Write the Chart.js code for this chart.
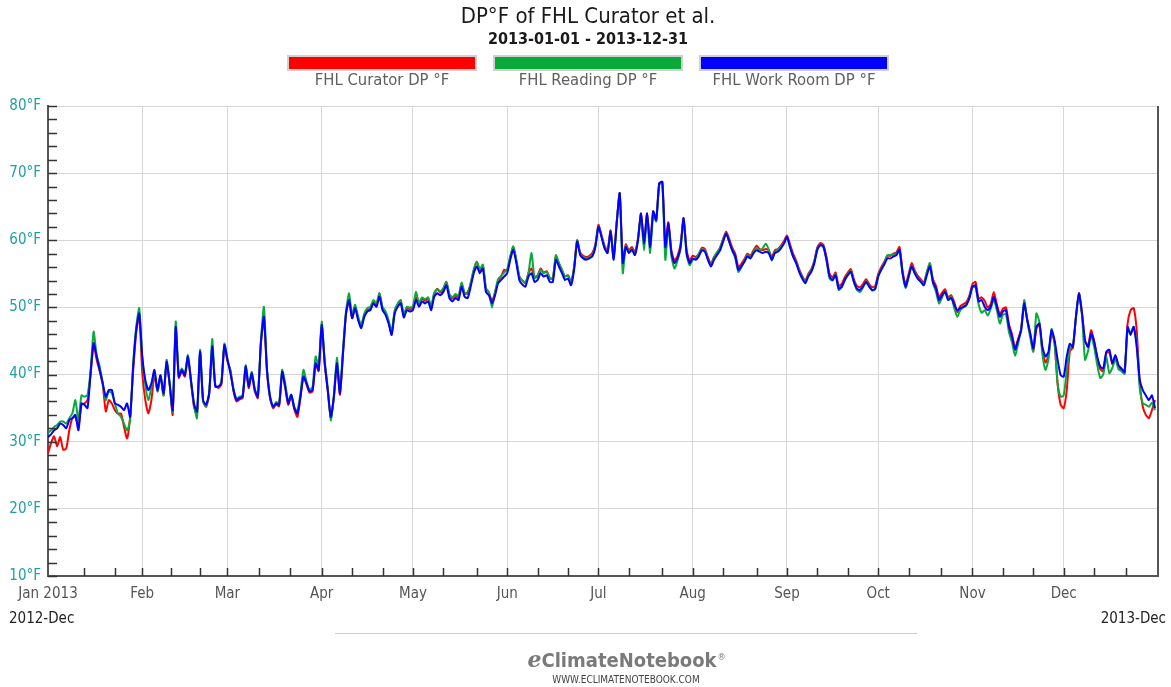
<!DOCTYPE html>
<html>
<head>
<meta charset="utf-8">
<title>DP°F of FHL Curator et al.</title>
<script src="https://cdn.jsdelivr.net/npm/chart.js@4.4.0/dist/chart.umd.min.js"></script>
<style>
  html, body { margin: 0; padding: 0; background: #fff; }
  #wrap { width: 1171px; height: 687px; }
</style>
</head>
<body>
<div id="wrap"><canvas id="dpChart" width="1171" height="687"></canvas></div>
<script>
// Punto de rocío diario (°F), 2013-01-01 .. 2013-12-31 (día 0 = 1 ene)
const seriesNames = ['FHL Curator DP °F', 'FHL Reading DP °F', 'FHL Work Room DP °F'];
const seriesColors = ['#ff0000', '#0aaa3a', '#0000ff'];

const curatorDP = [
  28.3,29.8,30.8,29.3,30.7,28.8,29.0,31.7,33.5,33.7,
  32.2,35.5,35.7,36.2,40.0,44.5,42.2,40.5,38.5,34.5,
  36.2,35.7,34.7,34.2,34.2,32.2,30.5,33.7,40.5,46.2,
  48.8,40.2,36.2,34.2,36.2,40.0,37.5,39.7,36.9,41.7,
  38.5,34.0,46.9,39.5,40.5,39.7,42.5,39.0,35.2,34.0,
  43.2,36.0,35.2,37.0,44.0,38.5,38.0,38.5,44.2,42.0,
  40.7,37.5,36.0,36.3,36.5,41.0,38.0,40.0,37.5,36.5,
  44.5,48.4,40.5,36.5,35.0,35.5,35.3,40.2,38.0,35.5,
  36.8,34.8,33.7,36.5,39.7,38.5,37.3,37.5,41.5,40.5,
  47.2,41.5,37.5,33.5,36.5,41.5,37.0,43.0,49.0,51.0,
  48.4,49.9,48.3,47.1,48.8,49.6,49.8,50.8,50.3,52.1,
  49.8,49.1,47.8,46.1,49.3,50.3,50.8,48.8,49.9,49.7,
  49.9,51.5,50.5,51.3,51.0,51.3,50.0,52.0,52.8,52.2,
  52.7,53.8,51.8,51.3,51.8,51.5,53.5,52.0,52.3,53.5,
  55.5,56.8,55.5,56.2,52.8,52.2,51.0,52.2,54.0,54.6,
  55.6,55.5,57.5,59.0,57.0,54.6,54.0,53.6,55.1,55.8,
  54.5,54.8,55.8,55.2,55.4,54.4,54.3,57.6,56.6,55.6,
  54.6,54.8,53.8,56.0,60.0,58.2,57.7,57.5,57.7,58.1,
  59.4,62.3,60.8,59.2,58.5,61.5,57.5,62.7,67.0,57.0,
  59.4,58.5,59.0,58.2,60.3,64.0,59.8,64.0,59.4,64.3,
  63.2,68.5,68.7,59.4,62.7,58.5,57.0,57.7,59.4,63.3,
  58.5,57.0,57.7,57.5,58.0,58.9,58.7,57.5,56.5,57.5,
  58.2,58.9,60.2,61.3,60.2,58.9,58.0,56.0,56.5,57.2,
  58.0,57.7,58.5,59.2,58.7,58.5,58.7,58.5,57.5,58.5,
  58.7,59.2,59.9,60.7,59.4,58.0,57.0,55.7,54.7,54.0,
  55.0,55.7,57.0,59.0,59.6,59.3,57.5,55.0,54.5,55.2,
  53.2,53.5,54.5,55.2,55.7,54.2,53.2,53.0,53.5,54.2,
  53.5,53.0,53.2,55.0,56.0,56.8,57.7,57.7,58.0,58.2,
  59.0,55.5,53.5,55.0,56.6,55.5,54.7,54.2,53.7,55.2,
  56.5,54.2,53.2,51.5,52.2,52.7,51.5,51.8,50.8,49.3,
  50.2,50.5,50.8,51.8,53.5,53.8,51.3,51.5,51.0,50.0,
  50.5,52.3,50.5,49.0,49.8,50.0,47.5,46.0,44.0,45.3,
  46.8,50.5,48.3,46.0,43.5,46.8,47.5,43.5,41.8,42.9,
  46.3,44.6,38.5,35.5,35.0,37.7,43.5,44.0,48.4,52.1,
  49.3,45.0,44.3,46.6,45.0,42.5,40.8,40.5,43.2,43.3,
  41.5,42.7,41.2,40.7,40.2,47.6,49.6,49.9,46.6,38.7,
  35.2,34.0,33.5,34.7,36.2
];

const readingDP = [
  31.3,31.7,32.2,32.5,33.0,33.0,32.7,33.5,34.2,36.2,
  33.2,36.9,36.7,37.0,40.5,46.4,42.9,41.2,38.7,36.2,
  37.5,37.2,35.7,34.2,33.7,32.7,31.7,33.2,41.5,47.1,
  49.9,42.5,38.5,36.2,38.2,40.5,37.5,39.9,36.9,42.2,
  38.7,34.5,47.9,39.9,40.9,40.1,42.9,39.2,35.5,33.5,
  43.7,36.0,35.3,37.4,45.3,38.4,38.2,38.9,44.6,42.4,
  40.4,37.9,36.4,36.7,36.9,41.4,38.4,40.4,37.9,36.9,
  45.0,50.1,40.9,36.9,35.2,35.9,35.7,40.7,38.7,36.0,
  37.0,35.2,34.5,37.2,40.7,39.0,37.7,38.2,42.7,41.2,
  47.9,42.0,38.0,33.2,37.0,42.5,37.7,43.7,49.5,52.1,
  48.9,50.4,48.6,47.4,49.1,49.9,50.1,51.1,50.6,52.1,
  50.1,49.4,48.1,46.4,49.6,50.6,51.1,49.0,50.1,50.0,
  50.2,52.3,50.7,51.5,51.2,51.5,50.2,52.2,52.7,52.4,
  52.9,53.8,52.0,51.5,52.0,51.7,53.7,52.2,52.0,53.7,
  55.7,56.8,55.7,56.4,52.9,52.2,50.0,52.3,54.2,54.7,
  55.2,55.7,57.6,59.1,57.1,54.6,54.0,53.7,55.2,58.1,
  54.4,54.6,55.6,55.1,55.3,54.3,54.3,57.8,56.6,55.6,
  54.6,54.8,53.8,56.0,60.0,58.0,57.5,57.3,57.5,57.8,
  59.2,62.1,60.6,59.0,58.3,61.3,57.3,62.6,67.0,55.1,
  59.2,58.3,58.7,58.0,60.1,63.6,58.5,63.6,58.1,63.8,
  62.8,68.3,68.5,57.1,62.0,57.6,55.8,57.0,58.8,63.0,
  57.8,56.3,57.1,57.3,58.0,58.7,58.5,57.2,56.2,57.5,
  58.2,58.9,60.1,61.0,59.8,58.5,57.3,55.3,56.0,56.9,
  57.8,57.5,58.3,58.8,58.5,58.8,59.5,58.6,57.0,58.3,
  58.6,59.0,59.6,60.4,59.0,57.6,56.8,55.5,54.5,53.8,
  54.8,55.5,56.8,58.8,59.4,59.0,57.0,54.3,54.0,54.9,
  52.6,53.0,54.0,54.9,55.4,53.8,52.6,52.3,53.0,53.9,
  53.2,52.5,52.7,54.7,55.7,56.6,57.8,57.8,57.9,58.0,
  58.6,55.0,52.9,54.5,56.2,55.2,54.4,53.9,53.5,55.3,
  56.6,53.6,52.3,50.6,51.5,52.4,51.2,51.6,49.9,48.6,
  49.6,50.0,50.3,51.5,53.0,53.0,50.5,49.2,49.6,48.8,
  49.8,51.2,49.6,47.6,48.9,49.0,46.3,44.8,42.8,44.6,
  46.8,51.1,48.0,45.5,43.4,49.1,47.8,43.0,40.7,42.3,
  46.8,44.6,38.7,36.7,36.9,40.7,44.0,44.2,48.5,52.0,
  48.8,42.2,43.5,45.8,44.1,41.5,39.5,40.0,42.6,40.2,
  41.0,42.3,40.8,40.5,40.1,46.6,46.3,47.1,44.6,38.0,
  35.7,35.5,35.2,35.8,34.7
];

const workRoomDP = [
  30.7,31.1,31.7,32.0,32.7,32.5,32.0,33.2,33.5,34.0,
  31.7,35.7,35.5,35.0,40.2,44.7,42.7,40.7,38.7,36.7,
  37.7,37.7,35.7,35.5,35.2,34.7,35.7,33.7,41.2,46.6,
  49.1,42.7,39.2,37.7,38.7,40.7,37.7,39.9,37.2,41.9,
  38.7,34.7,47.1,39.7,40.7,39.9,42.7,39.2,35.7,34.5,
  43.4,36.2,35.5,37.2,44.2,38.2,38.2,38.7,44.4,42.2,
  40.2,37.7,36.2,36.5,36.7,41.2,38.2,40.2,37.7,36.7,
  44.7,48.6,40.7,36.7,35.2,35.7,35.5,40.4,38.2,35.7,
  37.0,35.0,34.2,36.7,39.7,38.7,37.5,37.7,41.7,40.7,
  47.4,41.7,37.7,33.7,36.7,41.7,37.2,43.2,49.1,51.1,
  48.4,49.9,48.1,46.9,48.6,49.4,49.6,50.6,50.1,51.6,
  49.6,48.9,47.6,45.9,49.1,50.1,50.6,48.5,49.6,49.4,
  49.6,51.1,50.1,50.9,50.6,50.9,49.6,51.6,52.1,51.8,
  52.3,53.3,51.4,50.9,51.4,51.1,53.1,51.6,51.4,53.1,
  55.1,56.1,55.1,55.8,52.3,51.8,50.6,51.8,53.6,54.1,
  54.6,55.1,57.1,58.6,56.6,54.1,53.4,53.1,54.6,55.1,
  53.8,54.1,55.1,54.6,54.8,53.8,53.8,57.1,56.1,55.1,
  54.1,54.3,53.3,55.6,59.8,57.8,57.3,57.1,57.3,57.6,
  59.0,62.0,60.5,58.8,58.1,61.3,57.1,62.5,67.0,56.6,
  59.0,58.1,58.6,57.8,60.0,64.0,59.5,64.0,59.0,64.3,
  63.0,68.5,68.7,59.0,62.5,58.1,56.6,57.3,59.0,63.3,
  58.1,56.6,57.3,57.1,57.6,58.5,58.3,57.1,56.1,57.1,
  57.8,58.5,59.8,61.0,59.8,58.5,57.6,55.6,56.1,56.8,
  57.6,57.3,58.1,58.5,58.3,58.1,58.3,58.1,57.1,58.1,
  58.3,58.8,59.5,60.5,59.0,57.6,56.6,55.3,54.3,53.6,
  54.6,55.3,56.6,58.6,59.3,59.0,57.1,54.6,54.1,54.8,
  52.8,53.1,54.1,54.8,55.3,53.8,52.8,52.6,53.1,53.8,
  53.1,52.6,52.8,54.6,55.6,56.4,57.3,57.3,57.6,57.8,
  58.6,55.1,53.1,54.6,56.1,55.1,54.3,53.8,53.3,54.8,
  56.1,53.8,52.8,51.1,51.8,52.3,51.1,51.4,50.4,49.6,
  49.9,50.1,50.4,51.4,53.1,53.3,50.9,51.1,50.1,49.6,
  50.1,51.6,50.1,48.6,49.4,49.6,47.1,45.6,43.7,45.1,
  46.6,50.6,48.1,46.1,43.9,47.1,47.6,44.1,42.7,43.4,
  46.6,45.1,42.2,39.9,39.7,42.7,44.6,44.1,48.6,52.1,
  49.1,45.1,44.1,46.1,44.9,42.7,41.2,40.9,43.4,43.7,
  41.7,42.9,41.4,40.9,40.4,47.1,45.9,47.1,44.1,39.2,
  37.7,36.9,36.2,36.9,35.0
];

// Ejes
const monthStarts = [0, 31, 59, 90, 120, 151, 181, 212, 243, 273, 304, 334];
const monthLabels = ['Jan 2013', 'Feb', 'Mar', 'Apr', 'May', 'Jun', 'Jul', 'Aug', 'Sep', 'Oct', 'Nov', 'Dec'];
const minorTicks = [12, 22, 40.5, 50, 69.5, 79.5, 100, 110, 130, 141, 161, 171, 191, 202,
                    222, 233, 253, 263, 283, 293.5, 314, 324, 344, 354.5];
const yMin = 10, yMax = 80, yStep = 10, yMinorStep = 2;
const rangeStartLabel = '2012-Dec';
const rangeEndLabel = '2013-Dec';
const chartTitle = 'DP°F of FHL Curator et al.';
const chartSubtitle = '2013-01-01 - 2013-12-31';

const FONT = '"DejaVu Sans Condensed", "Liberation Sans Narrow", "DejaVu Sans", sans-serif';
const allTicks = monthStarts.concat(minorTicks).sort((a, b) => a - b);

function toPoints(arr) {
    return arr.map((v, i) => ({ x: i, y: v }));
}

function line(ctx, x1, y1, x2, y2) {
    ctx.beginPath();
    ctx.moveTo(x1, y1);
    ctx.lineTo(x2, y2);
    ctx.stroke();
}

// Título, leyenda, marcas interiores y pie
const decorPlugin = {
    id: 'decor',
    beforeDraw(chart) {
        const ctx = chart.ctx;
        ctx.save();
        ctx.fillStyle = '#fff';
        ctx.fillRect(0, 0, chart.width, chart.height);
        ctx.restore();
    },
    afterDraw(chart) {
        const ctx = chart.ctx;
        const { left, right, top, bottom } = chart.chartArea;
        const xs = chart.scales.x;
        const ys = chart.scales.y;
        ctx.save();

        // borde derecho
        ctx.strokeStyle = '#555';
        ctx.lineWidth = 2;
        line(ctx, right, top, right, bottom + 1);

        // marcas hacia dentro
        ctx.strokeStyle = '#333';
        ctx.lineWidth = 1.5;
        for (let v = yMin; v <= yMax; v += yMinorStep) {
            const py = Math.round(ys.getPixelForValue(v)) + 0.5;
            line(ctx, left, py, left + 9, py);
        }
        xs.ticks.forEach(t => {
            if (t.value === 0) return;
            const px = Math.round(xs.getPixelForValue(t.value)) + 0.5;
            line(ctx, px, bottom, px, bottom - 8);
        });

        // títulos
        const cx = 588;
        ctx.textAlign = 'center';
        ctx.textBaseline = 'middle';
        ctx.fillStyle = '#1a1a1a';
        ctx.font = '22px ' + FONT;
        ctx.fillText(chartTitle, cx, 17);
        ctx.font = 'bold 16px ' + FONT;
        ctx.fillText(chartSubtitle, cx, 40);

        // leyenda
        const boxW = 190, boxH = 16, gap = 16, boxY = 55;
        const total = chart.data.datasets.length * boxW + (chart.data.datasets.length - 1) * gap;
        let bx = cx - total / 2;
        chart.data.datasets.forEach(ds => {
            ctx.fillStyle = '#d0d0d0';
            ctx.fillRect(bx, boxY, boxW, boxH);
            ctx.fillStyle = ds.borderColor;
            ctx.fillRect(bx + 2, boxY + 2, boxW - 4, boxH - 4);
            ctx.fillStyle = '#606060';
            ctx.font = '16.5px ' + FONT;
            ctx.fillText(ds.label, bx + boxW / 2, 81);
            bx += boxW + gap;
        });

        // rango de fechas
        ctx.fillStyle = '#222';
        ctx.font = '15px ' + FONT;
        ctx.textAlign = 'left';
        ctx.fillText(rangeStartLabel, 9, 619);
        ctx.textAlign = 'right';
        ctx.fillText(rangeEndLabel, 1166, 619);

        // pie
        ctx.strokeStyle = '#ccc';
        ctx.lineWidth = 1;
        line(ctx, 335, 633.5, 917, 633.5);
        ctx.textBaseline = 'alphabetic';
        ctx.textAlign = 'left';
        ctx.font = 'italic bold 22px "DejaVu Serif", serif';
        const eW = ctx.measureText('e').width;
        ctx.font = 'bold 20px ' + FONT;
        const restW = ctx.measureText('ClimateNotebook').width;
        let lx = 626 - (eW + restW + 8) / 2;
        ctx.fillStyle = '#7a7a7a';
        ctx.font = 'italic bold 22px "DejaVu Serif", serif';
        ctx.fillText('e', lx, 667);
        ctx.font = 'bold 20px ' + FONT;
        ctx.fillText('ClimateNotebook', lx + eW, 667);
        ctx.font = '9px ' + FONT;
        ctx.fillText('®', lx + eW + restW + 1, 660);
        ctx.textAlign = 'center';
        ctx.fillStyle = '#444';
        ctx.font = '10px ' + FONT;
        ctx.fillText('WWW.ECLIMATENOTEBOOK.COM', 626, 683);

        ctx.restore();
    }
};

function createDPChart() {
    const ctx = document.getElementById('dpChart').getContext('2d');
    const values = [curatorDP, readingDP, workRoomDP];

    new Chart(ctx, {
        type: 'line',
        data: {
            datasets: values.map((arr, i) => ({
                label: seriesNames[i],
                data: toPoints(arr),
                borderColor: seriesColors[i],
                backgroundColor: seriesColors[i],
                borderWidth: 2,
                pointRadius: 0,
                tension: 0.2,
                fill: false,
                order: 3 - i
            }))
        },
        options: {
            responsive: false,
            animation: false,
            devicePixelRatio: 1,
            layout: { padding: { top: 106, right: 13, bottom: 71, left: 0 } },
            plugins: {
                legend: { display: false },
                title: { display: false },
                tooltip: { enabled: false }
            },
            scales: {
                x: {
                    type: 'linear',
                    min: 0,
                    max: 365,
                    afterBuildTicks: s => { s.ticks = allTicks.map(v => ({ value: v })); },
                    afterFit: s => { s.height = 40; },
                    grid: {
                        drawTicks: false,
                        color: c => (c.tick && monthStarts.includes(c.tick.value)) ? '#d6d6d6' : 'rgba(0,0,0,0)',
                        lineWidth: 1
                    },
                    border: { color: '#555', width: 2 },
                    ticks: {
                        autoSkip: false,
                        maxRotation: 0,
                        padding: 9,
                        color: '#555',
                        font: { family: FONT, size: 15 },
                        callback: v => {
                            const i = monthStarts.indexOf(v);
                            return i >= 0 ? monthLabels[i] : '';
                        }
                    }
                },
                y: {
                    min: yMin,
                    max: yMax,
                    afterFit: s => { s.width = 48; },
                    grid: { drawTicks: false, color: '#d6d6d6', lineWidth: 1 },
                    border: { color: '#555', width: 2 },
                    ticks: {
                        stepSize: yStep,
                        padding: 7,
                        color: '#20a0a0',
                        font: { family: FONT, size: 15 },
                        callback: v => v + '°F'
                    }
                }
            }
        },
        plugins: [decorPlugin]
    });
}

createDPChart();
</script>
</body>
</html>
